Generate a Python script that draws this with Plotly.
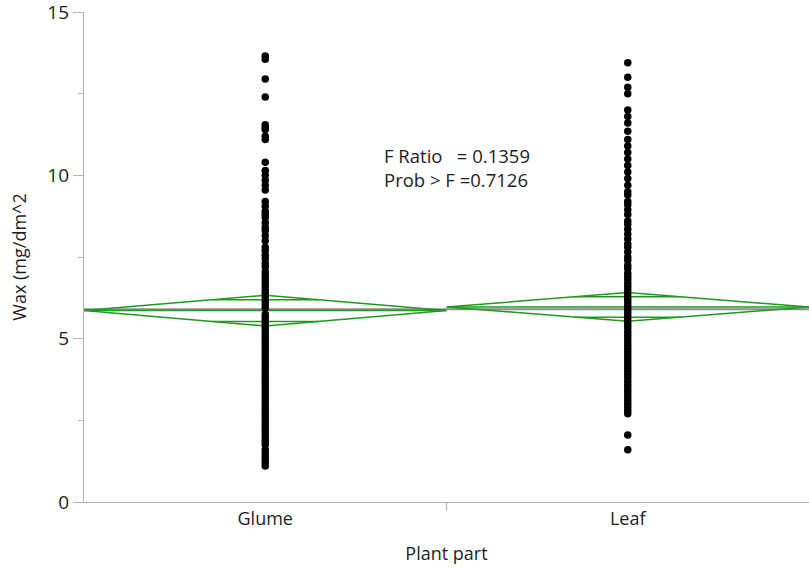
import plotly.graph_objects as go

# Wax content (mg/dm^2) measured on each plant part
groups = ["Glume", "Leaf"]

glume_wax = [
    13.65, 13.55, 12.95, 12.40, 11.55, 11.48, 11.40, 11.20, 11.10, 10.40,
    10.15, 10.00, 9.85, 9.70, 9.55, 9.20, 9.05, 8.90, 8.80, 8.70,
    8.55, 8.40, 8.30, 8.15, 8.00, 7.80, 7.70, 7.55, 7.45, 7.30,
    7.20, 7.05, 6.95, 6.85, 6.75, 6.65, 6.55, 6.45, 6.35, 6.25,
    6.15, 6.05, 5.95, 5.75, 5.65, 5.55, 5.45, 5.35, 5.25, 5.15,
    5.05, 4.95, 4.85, 4.75, 4.65, 4.55, 4.45, 4.35, 4.25, 4.15,
    4.05, 3.95, 3.85, 3.75, 3.65, 3.55, 3.45, 3.35, 3.25, 3.15,
    3.05, 2.95, 2.85, 2.75, 2.65, 2.55, 2.45, 2.35, 2.25, 2.15,
    2.05, 1.95, 1.85, 1.75, 1.60, 1.50, 1.40, 1.30, 1.20, 1.10,
]

leaf_wax = [
    13.45, 13.00, 12.70, 12.50, 12.00, 11.80, 11.60, 11.35, 11.10, 10.90,
    10.70, 10.50, 10.30, 10.10, 9.90, 9.70, 9.50, 9.40, 9.20, 9.10,
    8.95, 8.80, 8.60, 8.50, 8.35, 8.20, 8.05, 7.90, 7.80, 7.65,
    7.50, 7.40, 7.25, 7.15, 7.00, 6.90, 6.80, 6.70, 6.60, 6.50,
    6.40, 6.30, 6.20, 6.10, 6.00, 5.90, 5.80, 5.70, 5.60, 5.50,
    5.40, 5.30, 5.20, 5.10, 5.00, 4.90, 4.80, 4.70, 4.60, 4.50,
    4.40, 4.30, 4.20, 4.10, 4.00, 3.90, 3.80, 3.70, 3.60, 3.50,
    3.40, 3.30, 3.20, 3.10, 3.00, 2.90, 2.80, 2.70, 2.05, 1.60,
]

# Group means, 95% CI half-widths and the grand mean
group_means = [5.86, 5.97]
ci_half = [0.47, 0.44]
grand_mean = 5.90

f_ratio_text = "F Ratio   = 0.1359"
prob_text = "Prob > F =0.7126"

GREEN = "#1f9a1f"
AXIS = "#b4b4b4"
FONT = "Open Sans, Noto Sans, sans-serif"
TEXT = "#1e1e1e"

bounds = [(0.0, 1.0), (1.0, 2.0)]
values = [glume_wax, leaf_wax]

fig = go.Figure()

# Grand mean line across the whole plot
fig.add_trace(go.Scatter(
    x=[0, 2], y=[grand_mean, grand_mean], mode="lines",
    line=dict(color="#8c8c8c", width=2.2), hoverinfo="skip", showlegend=False,
))

for (x0, x1), m, h, vals in zip(bounds, group_means, ci_half, values):
    xc = (x0 + x1) / 2
    hw = (x1 - x0) / 2
    # means diamond
    fig.add_trace(go.Scatter(
        x=[x0, xc, x1, xc, x0], y=[m, m + h, m, m - h, m], mode="lines",
        line=dict(color=GREEN, width=1.5), hoverinfo="skip", showlegend=False,
    ))
    # mean line
    fig.add_trace(go.Scatter(
        x=[x0, x1], y=[m, m], mode="lines",
        line=dict(color=GREEN, width=1.5), hoverinfo="skip", showlegend=False,
    ))
    # overlap marks
    d = h / 2 ** 0.5
    span = hw * (1 - 2 ** -0.5)
    for s in (1, -1):
        fig.add_trace(go.Scatter(
            x=[xc - span, xc + span], y=[m + s * d, m + s * d], mode="lines",
            line=dict(color=GREEN, width=1.5), hoverinfo="skip", showlegend=False,
        ))
    # observations
    fig.add_trace(go.Scatter(
        x=[xc] * len(vals), y=vals, mode="markers",
        marker=dict(color="black", size=7.5, line=dict(width=0)),
        showlegend=False,
    ))

fig.add_annotation(x=0.822, y=10.62, xref="x", yref="y", text=f_ratio_text,
                   showarrow=False, xanchor="left", yanchor="middle",
                   font=dict(family=FONT, size=18.5, color=TEXT))
fig.add_annotation(x=0.822, y=9.86, xref="x", yref="y", text=prob_text,
                   showarrow=False, xanchor="left", yanchor="middle",
                   font=dict(family=FONT, size=18.5, color=TEXT))

# divider tick between the two groups
fig.add_shape(type="line", xref="x", yref="paper", x0=1, x1=1, y0=0, y1=-0.017,
              line=dict(color=AXIS, width=1.2))

fig.update_layout(
    width=809, height=569,
    margin=dict(l=84, r=0, t=12, b=67),
    plot_bgcolor="white", paper_bgcolor="white",
    font=dict(family=FONT, size=17.5, color=TEXT),
    xaxis=dict(
        range=[0, 2], tickvals=[0.5, 1.5], ticktext=groups, ticks="",
        showline=True, linecolor=AXIS, linewidth=1.2, showgrid=False, zeroline=False,
        tickfont=dict(size=18, color=TEXT),
        title=dict(text="Plant part", font=dict(size=18), standoff=18),
    ),
    yaxis=dict(
        range=[0, 15], tickvals=[0, 5, 10, 15], ticks="outside", ticklen=10,
        tickcolor=AXIS, tickwidth=1.2, ticklabeloverflow="allow",
        minor=dict(tickvals=[2.5, 7.5, 12.5], ticks="outside", ticklen=5,
                   tickcolor=AXIS, tickwidth=1.2),
        showline=True, linecolor=AXIS, linewidth=1.2, showgrid=False, zeroline=False,
        tickfont=dict(size=19, color=TEXT),
        title=dict(text="Wax (mg/dm^2", font=dict(size=18), standoff=16),
    ),
)

fig.write_html("out.html")
